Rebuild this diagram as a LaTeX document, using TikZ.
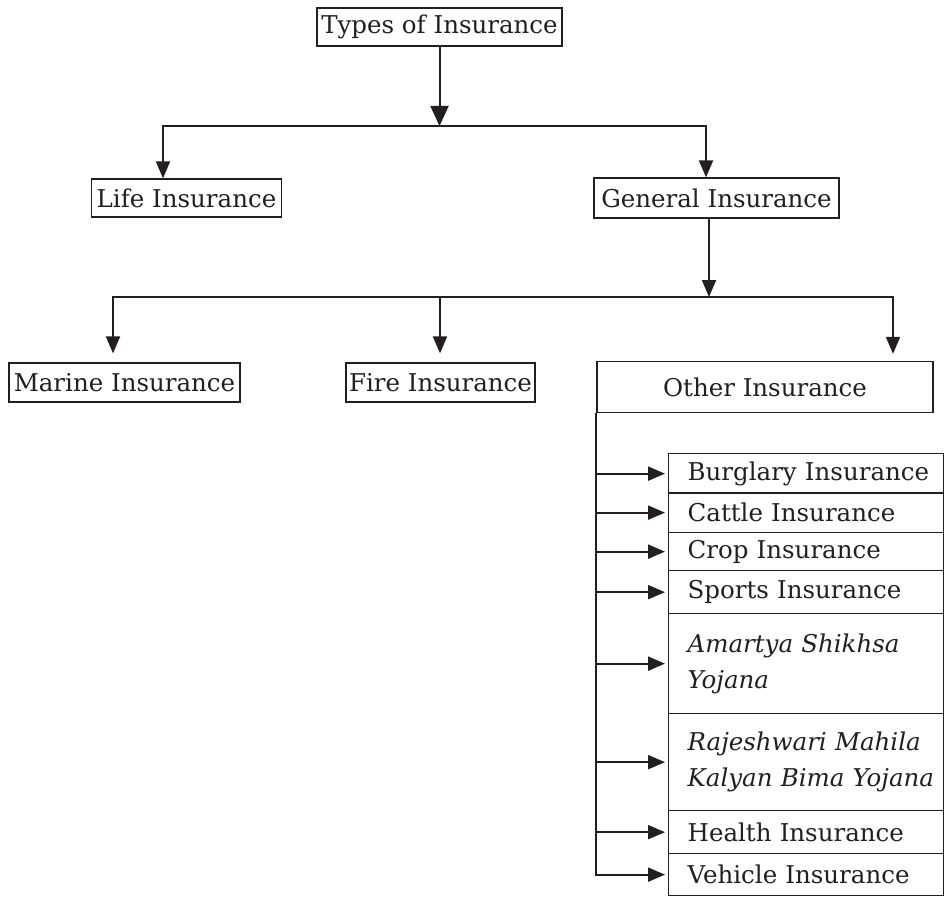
\documentclass[tikz,border=0pt]{standalone}
\usepackage{fontspec}
\setmainfont{DejaVu Serif}
\usetikzlibrary{arrows.meta}
\definecolor{ink}{HTML}{231F20}
\begin{document}
\begin{tikzpicture}[x=1pt,y=-1pt,
  box/.style={draw=ink, line width=1.3pt, inner sep=0pt, text=ink,
    font=\fontsize{24.5}{36}\selectfont},
  arr/.style={draw=ink, line width=2pt, -{Triangle[length=17pt,width=14pt]}},
  bigarr/.style={draw=ink, line width=2pt, -{Triangle[length=20pt,width=18pt]}},
  ln/.style={draw=ink, line width=2pt, line cap=rect},
  sub/.style={box, anchor=north west, minimum width=275pt, text width=237pt,
    inner xsep=19pt, inner ysep=0pt, align=left}
]
\useasboundingbox (0,0) rectangle (944,901);

% main boxes
\node[box, minimum width=245pt, minimum height=38pt] (top) at (439.5,27) {Types of Insurance};
\node[box, minimum width=190pt, minimum height=38pt] (life) at (186.5,198) {Life Insurance};
\node[box, minimum width=245pt, minimum height=40pt] (gen) at (716.5,198) {General Insurance};
\node[box, minimum width=231pt, minimum height=39pt] (marine) at (124.5,382.5) {Marine Insurance};
\node[box, minimum width=189pt, minimum height=39pt] (fire) at (440.5,382.5) {Fire Insurance};
\node[box, minimum width=336pt, minimum height=51pt] (other) at (765,387) {Other Insurance};

% sub boxes
\node[sub, minimum height=40pt] (burg) at (668,453) {\mbox{Burglary Insurance}};
\node[sub, minimum height=40pt] (cattle) at (668,492) {\mbox{Cattle Insurance}};
\node[sub, minimum height=38pt] (crop) at (668,532) {\mbox{Crop Insurance}};
\node[sub, minimum height=43pt] (sports) at (668,570) {\mbox{Sports Insurance}};
\node[sub, minimum height=100pt] (amartya) at (668,613) {\itshape \mbox{Amartya Shikhsa}\\ Yojana};
\node[sub, minimum height=97pt] (raj) at (668,713) {\itshape \mbox{Rajeshwari Mahila}\\ \mbox{Kalyan Bima Yojana}};
\node[sub, minimum height=43pt] (health) at (668,810) {\mbox{Health Insurance}};
\node[sub, minimum height=42pt] (veh) at (668,853) {\mbox{Vehicle Insurance}};

% level 1 connectors
\coordinate (j1l) at (163,126);
\coordinate (j1r) at (706,126);
\draw[bigarr] (top.south) -- (top.south |- j1l);
\draw[ln] (j1l) -- (j1r);
\draw[arr] (j1l) -- (j1l |- life.north);
\draw[arr] (j1r) -- (j1r |- gen.north);

% level 2 connectors
\coordinate (j2) at (709,297);
\coordinate (j2l) at (113,297);
\coordinate (j2f) at (440,297);
\coordinate (j2r) at (893,297);
\draw[arr] (j2 |- gen.south) -- (j2);
\draw[ln] (j2l) -- (j2r);
\draw[arr, shorten >=9pt] (j2l) -- (j2l |- marine.north);
\draw[arr, shorten >=9pt] (j2f) -- (j2f |- fire.north);
\draw[arr, shorten >=7pt] (j2r) -- (j2r |- other.north);

% other insurance branches
\draw[arr, shorten >=3pt] (other.south west) |- (veh.west);
\foreach \n in {burg,cattle,crop,sports,amartya,raj,health}{
  \draw[arr, shorten >=3pt] (other.south west |- \n.west) -- (\n.west);
}
\end{tikzpicture}
\end{document}
